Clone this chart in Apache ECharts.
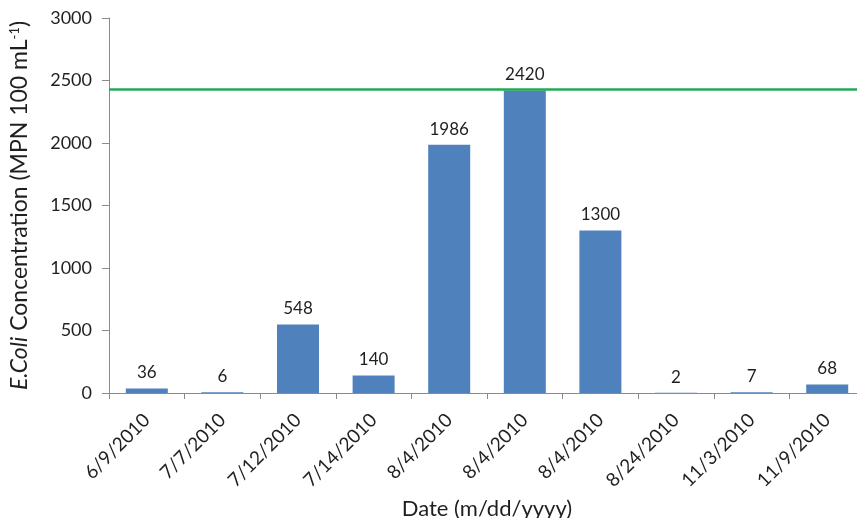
<!DOCTYPE html>
<html>
<head>
<meta charset="utf-8">
<script src="https://cdn.jsdelivr.net/npm/echarts@6/dist/echarts.min.js"></script>
<style>
  html, body { margin: 0; padding: 0; background: #fff; }
  #chart { width: 857px; height: 518px; }
</style>
</head>
<body>
<div id="chart"></div>
<script>
// Sampling dates (one bar per sample)
const sampleDates = ['6/9/2010', '7/7/2010', '7/12/2010', '7/14/2010', '8/4/2010',
                     '8/4/2010', '8/4/2010', '8/24/2010', '11/3/2010', '11/9/2010'];
// E. coli concentration, MPN per 100 mL
const ecoliValues = [36, 6, 548, 140, 1986, 2420, 1300, 2, 7, 68];
// Reference threshold drawn as a horizontal line
const thresholdValue = 2428;
// Value axis range and step
const yMin = 0, yMax = 3000, yStep = 500;

const FONT = 'Lato';
const TEXT = '#1f1f1f';
const AXIS = '#8a8a8a';

const chart = echarts.init(document.getElementById('chart'), null, { renderer: 'canvas' });

chart.setOption({
  animation: false,
  backgroundColor: '#ffffff',
  textStyle: { fontFamily: FONT, color: TEXT },
  grid: {
    left: 109, right: -8, top: 18, bottom: 125,
    containLabel: false,
    outerBoundsMode: 'none'
  },
  xAxis: {
    type: 'category',
    data: sampleDates.map((d, i) => i + ''),
    axisLine: { lineStyle: { color: AXIS, width: 1 } },
    axisTick: { show: true, length: 6, lineStyle: { color: AXIS } },
    axisLabel: {
      rotate: 45,
      interval: 0,
      margin: 24,
      fontFamily: FONT,
      fontSize: 19,
      color: TEXT,
      formatter: (v, i) => sampleDates[i]
    },
    name: 'Date (m/dd/yyyy)',
    nameLocation: 'middle',
    nameGap: 102,
    nameTextStyle: { fontFamily: FONT, fontSize: 22, color: TEXT }
  },
  yAxis: {
    type: 'value',
    min: yMin,
    max: yMax,
    interval: yStep,
    splitLine: { show: false },
    axisLine: { show: true, lineStyle: { color: AXIS, width: 1 } },
    axisTick: { show: true, length: 7, lineStyle: { color: AXIS } },
    axisLabel: { fontFamily: FONT, fontSize: 18, color: TEXT, margin: 17, formatter: v => String(v) },
    name: '{it|E.Coli} {n|Concentration (MPN 100 mL}{sup|-1}{n|)}',
    nameLocation: 'middle',
    nameRotate: 90,
    nameGap: 78,
    nameTextStyle: {
      fontFamily: FONT,
      fontSize: 23,
      color: TEXT,
      rich: {
        it: { fontStyle: 'italic', fontFamily: FONT, fontSize: 23, color: TEXT },
        n: { fontFamily: FONT, fontSize: 23, color: TEXT },
        sup: { fontFamily: FONT, fontSize: 13, color: TEXT, verticalAlign: 'top', padding: [0, 0, 9, 0] }
      }
    }
  },
  series: [{
    type: 'bar',
    data: ecoliValues,
    barWidth: 42,
    itemStyle: { color: '#4f81bd' },
    label: {
      show: true,
      position: 'top',
      distance: 7,
      fontFamily: FONT,
      fontSize: 17,
      color: TEXT
    },
    markLine: {
      silent: true,
      symbol: ['none', 'none'],
      label: { show: false },
      lineStyle: { color: '#22aa55', width: 2.5, type: 'solid' },
      data: [{ yAxis: thresholdValue }]
    }
  }]
});
</script>
</body>
</html>
